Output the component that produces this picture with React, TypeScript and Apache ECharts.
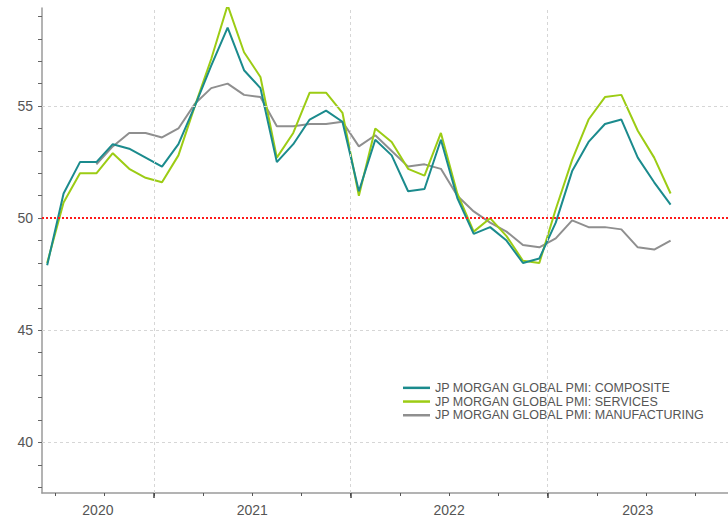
import React, { useEffect, useRef } from "react";
import * as echarts from "echarts";

const months = [
  "2020-06", "2020-07", "2020-08", "2020-09", "2020-10", "2020-11", "2020-12",
  "2021-01", "2021-02", "2021-03", "2021-04", "2021-05", "2021-06", "2021-07", "2021-08", "2021-09", "2021-10", "2021-11", "2021-12",
  "2022-01", "2022-02", "2022-03", "2022-04", "2022-05", "2022-06", "2022-07", "2022-08", "2022-09", "2022-10", "2022-11", "2022-12",
  "2023-01", "2023-02", "2023-03", "2023-04", "2023-05", "2023-06", "2023-07", "2023-08",
];

const composite = [
  47.9, 51.1, 52.5, 52.5, 53.3, 53.1, 52.7,
  52.3, 53.3, 55.0, 56.8, 58.5, 56.6, 55.8, 52.5, 53.3, 54.4, 54.8, 54.3,
  51.2, 53.5, 52.8, 51.2, 51.3, 53.5, 50.9, 49.3, 49.6, 49.0, 48.0, 48.2,
  49.8, 52.1, 53.4, 54.2, 54.4, 52.7, 51.6, 50.6,
];

const services = [
  48.0, 50.7, 52.0, 52.0, 52.9, 52.2, 51.8,
  51.6, 52.8, 55.0, 57.1, 59.5, 57.4, 56.3, 52.7, 53.8, 55.6, 55.6, 54.7,
  51.0, 54.0, 53.4, 52.2, 51.9, 53.8, 51.1, 49.4, 50.0, 49.2, 48.1, 48.0,
  50.4, 52.6, 54.4, 55.4, 55.5, 53.9, 52.7, 51.1,
];

const manufacturing: (number | null)[] = [
  null, null, null, 52.4, 53.2, 53.8, 53.8,
  53.6, 54.0, 55.1, 55.8, 56.0, 55.5, 55.4, 54.1, 54.1, 54.2, 54.2, 54.3,
  53.2, 53.7, 53.0, 52.3, 52.4, 52.2, 51.0, 50.3, 49.8, 49.4, 48.8, 48.7,
  49.1, 49.9, 49.6, 49.6, 49.5, 48.7, 48.6, 49.0,
];

const seriesNames = [
  "JP MORGAN GLOBAL PMI: COMPOSITE",
  "JP MORGAN GLOBAL PMI: SERVICES",
  "JP MORGAN GLOBAL PMI: MANUFACTURING",
];

const yearLabels = ["2020", "2021", "2022", "2023"];
const yTickValues = [38, 39, 40, 41, 42, 43, 44, 45, 46, 47, 48, 49, 50, 51, 52, 53, 54, 55, 56, 57, 58, 59];
const yLabelValues = [40, 45, 50, 55];
const yGridValues = [40, 45, 55];
const threshold = 50;

// x axis in months since Jan 2020 (points at mid-month)
const X_MIN = 5.185;
const X_MAX = 47;
const xOf = (m: string) => {
  const [y, mo] = m.split("-").map(Number);
  return (y - 2020) * 12 + (mo - 1) + 0.5;
};
const yearStart = (y: string) => (Number(y) - 2020) * 12;
const quarterTicks: number[] = [];
for (let v = 6; v < X_MAX; v += 3) quarterTicks.push(v);
const majorTicks = yearLabels.slice(1).map(yearStart);
const labelPositions = yearLabels.map((y) => {
  const a = Math.max(X_MIN, yearStart(y));
  const b = Math.min(X_MAX, yearStart(y) + 12);
  return (a + b) / 2;
});

const COLORS = ["#1b8b8d", "#9ccc14", "#8f8f8f"];

export default function App() {
  const ref = useRef<HTMLDivElement>(null);
  useEffect(() => {
    if (!ref.current) return;
    const chart = echarts.init(ref.current, null, { renderer: "svg" });
    const toData = (arr: (number | null)[]) => arr.map((v, i) => [xOf(months[i]), v]);
    const gridLineStyle = { color: "#d6d6d6", type: [3, 3] as any, width: 1 };
    chart.setOption({
      animation: false,
      grid: { left: 42, right: 0, top: 8, bottom: 24 },
      legend: {
        data: seriesNames,
        orient: "vertical",
        left: 403,
        top: 381,
        padding: 0,
        itemGap: 0,
        itemWidth: 27,
        itemHeight: 2.5,
        icon: "rect",
        textStyle: { fontFamily: "Liberation Sans, Arial, sans-serif", fontSize: 12.5, color: "#555", lineHeight: 13.7, padding: [0, 0, 0, 0] },
      },
      xAxis: [
        {
          type: "value",
          min: X_MIN,
          max: X_MAX,
          axisLine: { show: true, lineStyle: { color: "#9a9a9a", width: 1.5 } },
          axisTick: { show: true, customValues: quarterTicks, length: 3, lineStyle: { color: "#555" } },
          axisLabel: {
            customValues: labelPositions,
            formatter: (v: number) => String(2020 + Math.floor(v / 12)),
            fontFamily: "Liberation Sans, Arial, sans-serif",
            fontSize: 14,
            color: "#555",
            margin: 10,
          },
          splitLine: { show: false },
        },
        {
          type: "value",
          min: X_MIN,
          max: X_MAX,
          position: "bottom",
          offset: 0,
          axisLine: { show: false },
          axisTick: { show: true, customValues: majorTicks, length: 5, lineStyle: { color: "#444", width: 1.5 } },
          axisLabel: { show: false },
          splitLine: { show: false },
        },
      ],
      yAxis: {
        type: "value",
        min: 37.74,
        max: 59.375,
        axisLine: { show: true, lineStyle: { color: "#9a9a9a", width: 1.5 } },
        axisTick: { show: true, customValues: yTickValues, length: 4, lineStyle: { color: "#666" } },
        axisLabel: {
          customValues: yLabelValues,
          fontFamily: "Liberation Sans, Arial, sans-serif",
          fontSize: 14,
          color: "#555",
          margin: 9,
        },
        splitLine: { show: false },
      },
      series: [
        {
          type: "line",
          name: "grid",
          data: [],
          z: 1,
          silent: true,
          markLine: {
            silent: true,
            symbol: ["none", "none"],
            label: { show: false },
            lineStyle: gridLineStyle,
            data: [
              ...yGridValues.map((v) => ({ yAxis: v })),
              ...majorTicks.map((v) => ({ xAxis: v })),
            ],
          },
        },
        {
          type: "line",
          name: seriesNames[2],
          data: toData(manufacturing),
          showSymbol: false,
          lineStyle: { color: COLORS[2], width: 2 },
          itemStyle: { color: COLORS[2] },
          z: 2,
        },
        {
          type: "line",
          name: seriesNames[1],
          data: toData(services),
          showSymbol: false,
          lineStyle: { color: COLORS[1], width: 2 },
          itemStyle: { color: COLORS[1] },
          z: 2,
        },
        {
          type: "line",
          name: seriesNames[0],
          data: toData(composite),
          showSymbol: false,
          lineStyle: { color: COLORS[0], width: 2 },
          itemStyle: { color: COLORS[0] },
          z: 2,
        },
        {
          type: "line",
          name: "threshold",
          data: [],
          z: 3,
          silent: true,
          markLine: {
            silent: true,
            symbol: ["none", "none"],
            label: { show: false },
            lineStyle: { color: "#ff1a1a", type: [2, 2] as any, width: 2 },
            data: [{ yAxis: threshold }],
          },
        },
      ],
    });
    return () => chart.dispose();
  }, []);
  return <div ref={ref} style={{ position: "absolute", left: 0, top: 0, width: 728, height: 517 }} />;
}
